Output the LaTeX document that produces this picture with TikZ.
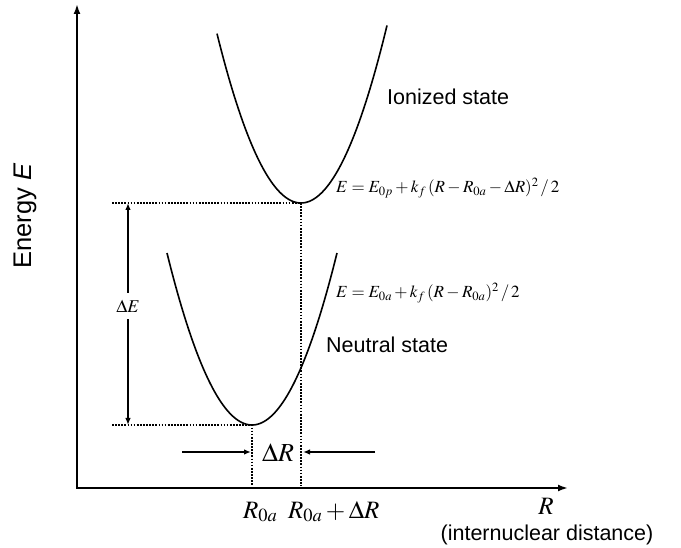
\documentclass[tikz,border=0pt]{standalone}
\usepackage{mathptmx}
\usepackage[no-math]{fontspec}
\setsansfont{Liberation Sans}
\usetikzlibrary{arrows.meta}

\begin{document}
\begin{tikzpicture}[x=1pt, y=-1pt,
  axis/.style={line width=2.6pt},
  curve/.style={line width=1.6pt},
  guide/.style={line width=2pt, dash pattern=on 1.7pt off 1.4pt},
  dim/.style={line width=1.6pt, -{Latex[length=7pt,width=5.5pt]}},
  lbl/.style={font=\sffamily\fontsize{21.5}{21.5}\selectfont, inner sep=0pt},
  eqn/.style={font=\fontsize{17}{17}\selectfont, inner sep=0pt},
  sym/.style={font=\fontsize{25}{25}\selectfont, inner sep=0pt}]
  \useasboundingbox (0,0) rectangle (681,548);

  % Axes
  \coordinate (Etop) at (77,4);
  \coordinate (Rend) at (568,488);
  \draw[axis, {Latex[length=10pt,width=7pt]}-{Latex[length=10pt,width=7pt]}] (Etop) |- (Rend);
  \node[font=\sffamily\fontsize{25.5}{25.5}\selectfont, rotate=90] (elabel) at (25,216) {Energy \textit{E}};
  \node[sym] (rlabel) at (546,506) {$R$};
  \node[lbl, anchor=base] (rdesc) at (547,540) {(internuclear distance)};

  % Ionized state (upper well)
  \draw[curve, domain=-84:86, samples=80] plot ({301+\x}, {203-0.024*\x*\x});
  \node[lbl, anchor=base west] (ion) at (387,105) {Ionized state};
  \node[eqn, anchor=base west] (eqp) at (336,193) {$E = E_{0p} + k_f\,(R - R_{0a} - \Delta R)^2\,/\,2$};

  % Neutral state (lower well)
  \draw[curve, domain=-85:85, samples=80] plot ({252+\x}, {425-0.0238*\x*\x});
  \node[lbl, anchor=base west] (neu) at (326,353) {Neutral state};
  \node[eqn, anchor=base west] (eqa) at (336,298) {$E = E_{0a} + k_f\,(R - R_{0a})^2\,/\,2$};

  % Guide lines at the minima
  \coordinate (pmin) at (301,203);
  \coordinate (amin) at (252,425);
  \coordinate (pleft) at (112,203);
  \coordinate (aleft) at (112,425);
  \coordinate (pfoot) at (301,486);
  \coordinate (afoot) at (252,486);
  \draw[guide] (pleft) -- (pmin) -- (pfoot);
  \draw[guide] (aleft) -- (amin) -- (afoot);

  % Energy gap
  \node[font=\fontsize{18}{18}\selectfont, inner xsep=0pt, inner ysep=7pt] (dE) at (128,306) {$\Delta E$};
  \coordinate (dEtop) at (128,203);
  \coordinate (dEbot) at (128,425);
  \draw[dim] (dE.north) -- (dEtop);
  \draw[dim] (dE.south) -- (dEbot);

  % Shift of the minimum
  \node[font=\fontsize{26}{26}\selectfont, inner sep=0pt] (dR) at (278,453) {$\Delta R$};
  \coordinate (dRl) at (182,452);
  \coordinate (dRr) at (375,452);
  \coordinate (ain) at (251,452);
  \coordinate (pin) at (303,452);
  \draw[dim] (dRl) -- (ain);
  \draw[dim] (dRr) -- (pin);
  \node[sym, anchor=base west] (ra) at (243,518) {$R_{0a}$};
  \node[sym, anchor=base west] (rb) at (288,518) {$R_{0a} + \Delta R$};
\end{tikzpicture}
\end{document}
